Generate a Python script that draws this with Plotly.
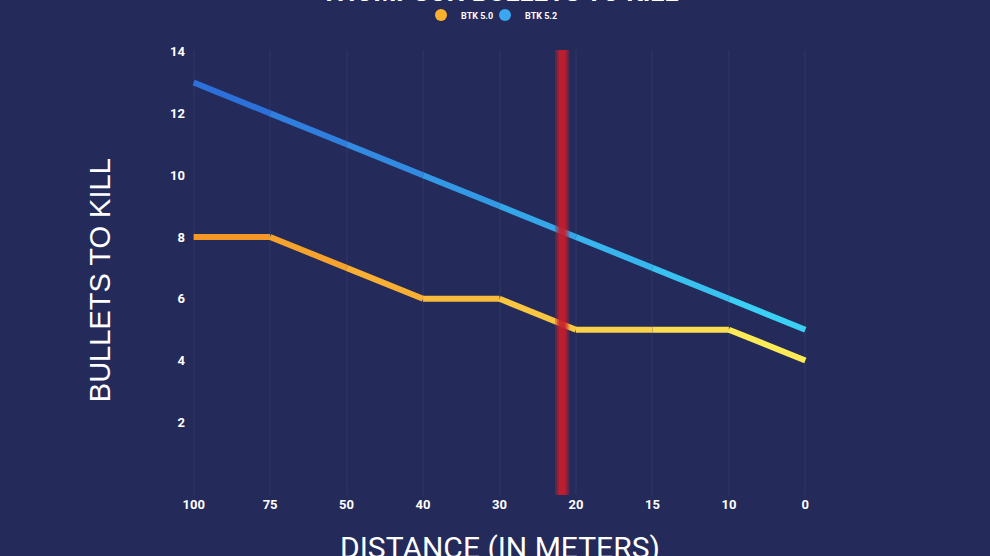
import plotly.graph_objects as go

distances = ["100", "75", "50", "40", "30", "20", "15", "10", "0"]
btk_50 = [8, 8, 7, 6, 6, 5, 5, 5, 4]
btk_52 = [13, 12, 11, 10, 9, 8, 7, 6, 5]
y_ticks = [2, 4, 6, 8, 10, 12, 14]

BG = "#242a5a"

def lerp(c1, c2, t):
    return "rgb(%d,%d,%d)" % tuple(round(a + (b - a) * t) for a, b in zip(c1, c2))

fig = go.Figure()

series = [
    ("BTK 5.0", btk_50, (245, 145, 35), (252, 240, 90), "#fbb12e", "legend"),
    ("BTK 5.2", btk_52, (45, 105, 215), (60, 215, 245), "#3aa8f0", "legend2"),
]
n = len(distances)
for name, vals, c0, c1, legc, leg in series:
    for i in range(n - 1):
        t = (i + 0.5) / (n - 1)
        fig.add_trace(go.Scatter(
            x=distances[i:i + 2], y=vals[i:i + 2], mode="lines",
            line=dict(color=lerp(c0, c1, t), width=6),
            showlegend=False, hoverinfo="skip"))
    fig.add_trace(go.Scatter(
        x=distances, y=vals, mode="markers", name=name, legend=leg,
        marker=dict(size=0.1, color=legc), showlegend=True))

# red vertical band
cx = 4.82
for half, op in [(0.095, 0.35), (0.07, 0.5), (0.045, 0.75)]:
    fig.add_shape(type="rect", xref="x", yref="paper",
                  x0=cx - half, x1=cx + half, y0=0, y1=1,
                  fillcolor="#c81e2c", opacity=op, line_width=0, layer="above")

fig.add_annotation(text="THOMPSON BULLETS TO KILL", xref="paper", yref="paper",
                   x=0.5, y=1.13, yanchor="middle", showarrow=False,
                   font=dict(family="Roboto", size=26, color="white", weight="bold"))
fig.add_annotation(text="DISTANCE (IN METERS)", xref="paper", yref="paper",
                   x=0.5, y=-0.119, yanchor="middle", showarrow=False,
                   font=dict(family="Roboto", size=30, color="white"))
fig.add_annotation(text="BULLETS TO KILL", xref="paper", yref="paper",
                   x=-0.137, y=0.483, xanchor="center", yanchor="middle",
                   textangle=-90, showarrow=False,
                   font=dict(family="Liberation Sans", size=29, color="white"))

leg_common = dict(orientation="h", xanchor="left", xref="container",
                  y=0.973, yanchor="middle", yref="container",
                  font=dict(family="Roboto", size=9, color="white", weight="bold"),
                  itemsizing="constant", bgcolor="rgba(0,0,0,0)")

fig.update_layout(
    width=990, height=556,
    paper_bgcolor=BG, plot_bgcolor=BG,
    margin=dict(l=186, r=177, t=50, b=61, autoexpand=False),
    legend=dict(x=(441 - 20) / 990, **leg_common),
    legend2=dict(x=(505 - 20) / 990, **leg_common),
    xaxis=dict(type="category", range=[-0.1, 8.1],
               showgrid=True, gridcolor="rgba(255,255,255,0.035)", gridwidth=2,
               zeroline=False, showline=False, ticks="",
               tickfont=dict(family="Roboto", size=13, color="white", weight="bold")),
    yaxis=dict(range=[-0.35, 14.05], tickvals=y_ticks,
               showgrid=False, zeroline=False, showline=False, ticks="",
               tickfont=dict(family="Roboto", size=13, color="white", weight="bold")),
)

fig.write_html("out.html", config={"displayModeBar": False},
               post_script="document.body.style.margin='0';document.body.style.background='%s';" % BG)
